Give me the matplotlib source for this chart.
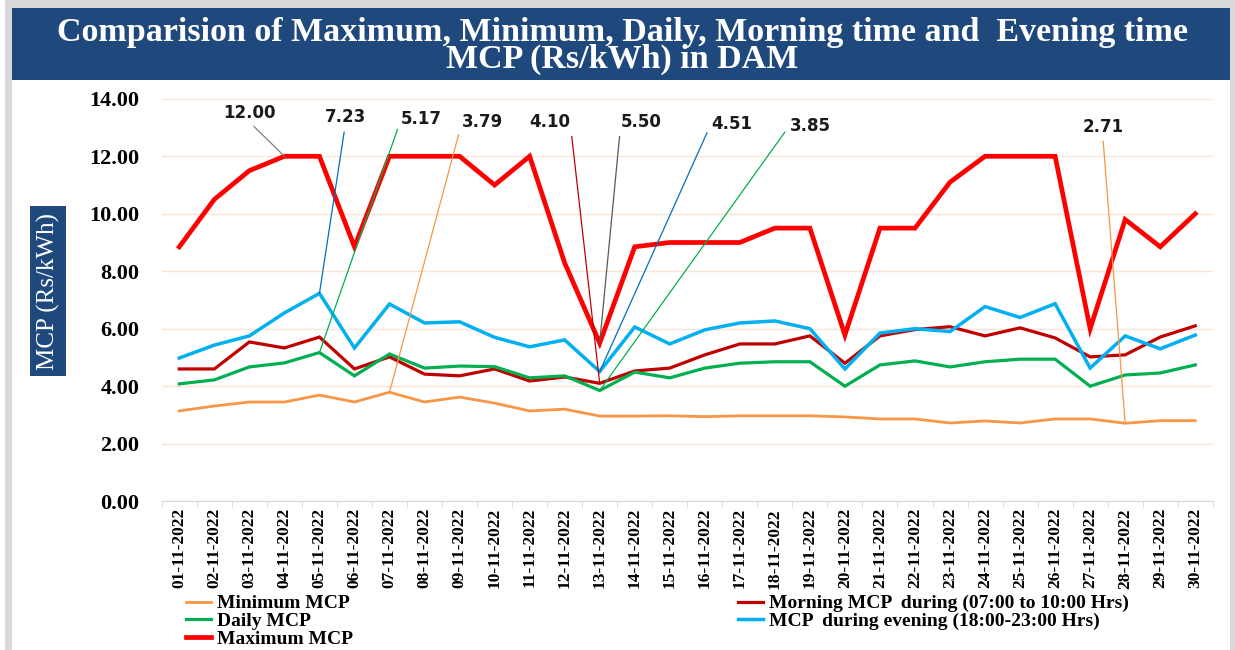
import numpy as np
import matplotlib
matplotlib.use('Agg')
import matplotlib.pyplot as plt
from matplotlib.patches import Rectangle

days = ['%02d-11-2022' % d for d in range(1, 31)]

min_mcp = [3.14, 3.31, 3.45, 3.45, 3.69, 3.45, 3.79, 3.45, 3.62, 3.41,
           3.14, 3.20, 2.96, 2.96, 2.97, 2.94, 2.97, 2.97, 2.97, 2.93,
           2.86, 2.86, 2.72, 2.79, 2.72, 2.86, 2.86, 2.71, 2.80, 2.80]
daily_mcp = [4.08, 4.22, 4.67, 4.81, 5.17, 4.36, 5.12, 4.63, 4.70, 4.68,
             4.29, 4.36, 3.85, 4.49, 4.29, 4.63, 4.80, 4.85, 4.85, 4.00,
             4.74, 4.88, 4.67, 4.85, 4.94, 4.94, 4.00, 4.39, 4.46, 4.74]
morning_mcp = [4.60, 4.60, 5.54, 5.33, 5.71, 4.60, 5.02, 4.42, 4.36, 4.60,
               4.18, 4.32, 4.10, 4.53, 4.63, 5.09, 5.47, 5.47, 5.75, 4.80,
               5.75, 5.97, 6.07, 5.75, 6.03, 5.68, 5.02, 5.09, 5.71, 6.10]
evening_mcp = [4.98, 5.43, 5.75, 6.55, 7.23, 5.33, 6.86, 6.20, 6.24, 5.70,
               5.37, 5.61, 4.51, 6.06, 5.47, 5.96, 6.20, 6.27, 6.00, 4.60,
               5.85, 6.00, 5.90, 6.77, 6.39, 6.87, 4.63, 5.75, 5.30, 5.78]
max_mcp = [8.85, 10.50, 11.50, 12.00, 12.00, 8.85, 12.00, 12.00, 12.00, 11.00,
           12.00, 8.29, 5.50, 8.85, 9.00, 9.00, 9.00, 9.50, 9.50, 5.78,
           9.50, 9.50, 11.10, 12.00, 12.00, 12.00, 6.00, 9.80, 8.85, 10.00]

series = {
    'Minimum MCP': min_mcp,
    'Morning MCP  during (07:00 to 10:00 Hrs)': morning_mcp,
    'Daily MCP': daily_mcp,
    'MCP  during evening (18:00-23:00 Hrs)': evening_mcp,
    'Maximum MCP': max_mcp,
}
colors = ['#F79646', '#C00000', '#00B050', '#00B0F0', '#FF0000']
widths = [2.0, 2.3, 2.3, 2.5, 3.4]

# callouts: series, day index, label pos (x, y), line colour, where the line leaves the text
callouts = [
    ('Maximum MCP', 3, (1.99, 13.52), '#7F7F7F', (0.5, 0.0)),
    ('MCP  during evening (18:00-23:00 Hrs)', 4, (4.73, 13.35), '#0070C0', (0.5, 0.0)),
    ('Daily MCP', 4, (6.92, 13.31), '#00B050', (0.0, 0.5)),
    ('Minimum MCP', 6, (8.66, 13.2), '#F79646', (0.0, 0.5)),
    ('Morning MCP  during (07:00 to 10:00 Hrs)', 12, (10.57, 13.2), '#C00000', (1.0, 0.5)),
    ('Maximum MCP', 12, (13.19, 13.2), '#595959', (0.0, 0.5)),
    ('MCP  during evening (18:00-23:00 Hrs)', 12, (15.76, 13.12), '#0070C0', (0.0, 0.5)),
    ('Daily MCP', 12, (18.0, 13.06), '#00B050', (0.0, 0.5)),
    ('Minimum MCP', 27, (26.36, 13.03), '#F79646', (0.5, 0.0)),
]

serif = 'Liberation Serif'
fig = plt.figure(figsize=(12.35, 6.5), dpi=100)

# frame and title banner
fig.patches.append(Rectangle((0.004, 0), 0.996, 1, transform=fig.transFigure,
                             facecolor='#D9D9D9', edgecolor='none', zorder=-3))
fig.patches.append(Rectangle((0.010, 0), 0.986, 0.988, transform=fig.transFigure,
                             facecolor='white', edgecolor='none', zorder=-2))
fig.patches.append(Rectangle((0.010, 0.877), 0.986, 0.111, transform=fig.transFigure,
                             facecolor='#1F497D', edgecolor='none', zorder=-1))
fig.text(0.504, 0.929, 'Comparision of Maximum, Minimum, Daily, Morning time and  Evening time\nMCP (Rs/kWh) in DAM',
         ha='center', va='center', color='white', fontsize=24.5, fontweight='bold',
         family=serif, linespacing=0.85)

ax = fig.add_axes([0.131, 0.229, 0.851, 0.619])
x = np.arange(len(days))
for (name, vals), c, w in zip(series.items(), colors, widths):
    ax.plot(x, vals, color=c, lw=w, label=name, solid_joinstyle='miter')

for name, i, (tx, ty), c, rp in callouts:
    v = series[name][i]
    ax.annotate('%.2f' % v, xy=(i, v), xytext=(tx, ty), ha='center', va='center',
                fontsize=12, fontweight='bold', family='DejaVu Sans', color='#1a1a1a',
                arrowprops=dict(arrowstyle='-', color=c, lw=0.9, relpos=rp,
                                shrinkA=2, shrinkB=0), annotation_clip=False)

ax.set_xlim(-0.5, len(days) - 0.5)
ax.set_ylim(0, 14)
ax.set_yticks(np.arange(0, 15, 2))
ax.set_yticklabels(['%.2f' % t for t in np.arange(0, 15, 2)], family=serif,
                   fontweight='bold', fontsize=16)
ax.set_xticks(x)
ax.set_xticklabels(days, rotation=90, family=serif, fontweight='bold', fontsize=12.5)
ax.set_xticks(np.arange(-0.5, len(days)), minor=True)
ax.tick_params(axis='x', which='major', length=0, pad=5)
ax.tick_params(axis='x', which='minor', length=5, color='#D9D9D9')
ax.tick_params(axis='y', length=0, pad=16)
ax.grid(axis='y', color='#FCE4D6', lw=1)
ax.set_axisbelow(True)
for s in ['top', 'right', 'left']:
    ax.spines[s].set_visible(False)
ax.spines['bottom'].set_color('#D9D9D9')

fig.text(0.039, 0.552, 'MCP (Rs/kWh)', rotation=90, ha='center', va='center',
         color='white', fontsize=18, family=serif,
         bbox=dict(boxstyle='square,pad=0.25', facecolor='#1F497D', edgecolor='none'))

h, l = ax.get_legend_handles_labels()
order = [0, 2, 4, 1, 3]
fig.legend([h[k] for k in order], [l[k] for k in order], loc='upper left',
           bbox_to_anchor=(0.144, 0.097), ncol=2, frameon=False, handlelength=1.3,
           handletextpad=0.3, labelspacing=0.0, columnspacing=19.8, borderaxespad=0,
           prop={'family': serif, 'weight': 'bold', 'size': 14})

fig.savefig('out.png', dpi=100)
